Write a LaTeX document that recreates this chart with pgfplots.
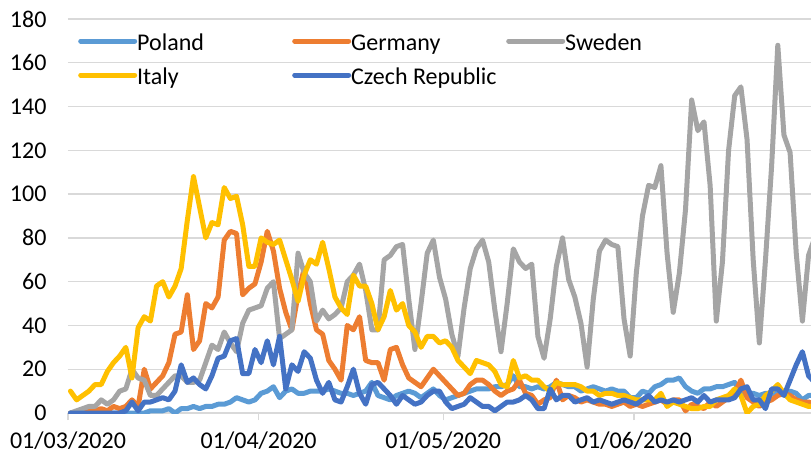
\documentclass[border=0pt]{standalone}
\usepackage{fontspec}
\setmainfont{Carlito}
\usepackage{pgfplots}
\usepackage{pgfplotstable}
\pgfplotsset{compat=1.18}
\definecolor{cPL}{HTML}{5B9BD5}
\definecolor{cDE}{HTML}{ED7D31}
\definecolor{cSE}{HTML}{A5A5A5}
\definecolor{cIT}{HTML}{FFC000}
\definecolor{cCZ}{HTML}{4472C4}
\definecolor{gridc}{HTML}{D9D9D9}
\newcommand{\legtext}[1]{\makebox[151bp][l]{\hspace*{-2bp}\strut #1}}
\pgfplotstableread{
d pl de se it cz
0 0 0 0 10 0
1 0 0 1 6 0
2 0 1 2 8 0
3 0 1 3 10 0
4 0 1 3 13 0
5 0 2 6 13 0
6 0 1 4 19 0
7 0 3 6 23 0
8 0 2 10 26 0
9 0 3 11 30 1
10 0 6 20 16 5
11 0 3 16 39 1
12 0 20 15 44 5
13 1 11 8 42 5
14 1 14 8 58 6
15 1 17 11 60 7
16 2 23 14 53 6
17 0 36 17 58 10
18 2 37 17 66 22
19 2 54 14 88 14
20 3 29 14 108 16
21 2 33 15 94 13
22 3 50 23 80 11
23 3 48 31 87 17
24 4 53 29 86 25
25 4 79 37 103 26
26 5 83 32 98 33
27 7 82 28 99 34
28 6 54 41 86 18
29 5 57 47 67 18
30 6 59 48 67 29
31 9 69 49 80 23
32 10 83 57 78 33
33 12 74 60 77 22
34 7 57 34 79 35
35 10 46 36 70 11
36 11 38 38 61 22
37 9 54 73 51 19
38 9 66 64 63 28
39 10 50 60 70 25
40 10 38 42 68 15
41 10 36 47 78 9
42 11 24 43 66 14
43 10 20 45 53 6
44 9 15 48 48 5
45 9 40 60 45 12
46 8 38 63 63 20
47 9 44 68 58 9
48 10 24 56 58 4
49 14 23 38 50 13
50 8 23 38 38 14
51 7 15 70 44 11
52 6 29 72 56 8
53 8 30 76 47 4
54 9 22 77 50 8
55 10 16 52 40 6
56 9 14 29 37 4
57 7 12 50 30 5
58 9 16 73 35 8
59 11 20 79 35 10
60 8 17 62 32 10
61 6 14 52 33 5
62 7 11 36 30 2
63 8 8 26 24 3
64 9 9 48 21 4
65 10 13 66 18 7
66 11 15 75 24 5
67 11 15 79 23 3
68 11 13 69 22 3
69 12 10 47 19 1
70 12 8 28 13 3
71 13 10 50 12 5
72 17 11 75 24 5
73 12 15 69 16 6
74 12 9 66 17 8
75 11 8 68 15 6
76 12 4 35 15 2
77 11 6 25 12 2
78 12 7 43 10 11
79 14 15 67 14 6
80 13 6 80 13 8
81 12 8 61 13 8
82 12 7 53 13 5
83 10 5 41 12 6
84 11 6 21 10 7
85 12 5 52 10 5
86 11 4 74 8 6
87 10 4 79 9 5
88 11 3 77 9 4
89 10 4 76 8 5
90 10 5 43 8 6
91 7 3 26 7 5
92 7 4 64 6 4
93 10 3 90 6 6
94 9 4 104 6 8
95 12 5 103 6 5
96 13 6 113 9 6
97 15 4 73 3 5
98 15 6 46 5 6
99 16 6 64 4 5
100 12 1 93 3 6
101 10 4 143 2 7
102 9 3 129 2 5
103 11 2 133 3 8
104 11 5 104 3 5
105 12 3 42 6 6
106 12 5 69 7 6
107 13 7 120 8 6
108 14 9 145 11 7
109 9 15 149 8 11
110 9 7 125 0 12
111 9 5 70 3 6
112 8 3 32 4 6
113 9 5 70 8 2
114 9 6 113 10 11
115 9 8 168 13 11
116 9 9 127 9 8
117 10 8 119 6 15
118 9 6 73 5 22
119 6 5 42 4 28
120 8 5 72 3 17
121 8 4 80 3 14
}\data
\begin{document}
\begin{tikzpicture}
\begin{axis}[
  name=ax,
  scale only axis, width=743bp, height=394bp,
  xmin=0, xmax=120.8, ymin=0, ymax=180,
  axis x line*=bottom, axis y line*=left,
  y axis line style={draw=none},
  x axis line style={draw=gridc, line width=1.3bp},
  ytick={0,20,...,180},
  ymajorgrids, grid style={draw=gridc, line width=1.3bp},
  ytick style={draw=none},
  xtick={0,31,61,92},
  xticklabels={01/03/2020,01/04/2020,01/05/2020,01/06/2020},
  xtick style={draw=gridc, line width=1.3bp},
  tick align=outside, major tick length=7bp,
  /pgf/number format/assume math mode=true,
  tick label style={font=\fontsize{24bp}{28.8bp}\selectfont, text=black},
  yticklabel style={xshift=-11bp},
  xticklabel style={yshift=-8bp},
  every axis plot/.append style={line width=5bp, line cap=round, line join=round, mark=none},
  legend columns=3,
  legend cell align=left,
  legend style={draw=none, fill=none, at={(rel axis cs:0,1)}, xshift=10bp, yshift=-9bp, anchor=north west, inner sep=0pt, row sep=8.4bp, nodes={inner sep=2bp}, font=\fontsize{24bp}{28.8bp}\selectfont},
  legend image code/.code={\draw[#1, line width=5bp, line cap=round] (0bp,0bp) -- (49bp,0bp); \path (-2.5bp,0bp) -- (51.5bp,0bp);},
]
\addplot[cPL] table[x expr=\thisrow{d}+0.4, y=pl] {\data};
\addlegendentry{\legtext{Poland}}
\addplot[cDE] table[x expr=\thisrow{d}+0.4, y=de] {\data};
\addlegendentry{\legtext{Germany}}
\addplot[cSE] table[x expr=\thisrow{d}+0.4, y=se] {\data};
\addlegendentry{\legtext{Sweden}}
\addplot[cIT] table[x expr=\thisrow{d}+0.4, y=it] {\data};
\addlegendentry{\legtext{Italy}}
\addplot[cCZ] table[x expr=\thisrow{d}+0.4, y=cz] {\data};
\addlegendentry{\legtext{Czech Republic}}
\end{axis}
\pgfresetboundingbox
\useasboundingbox ([xshift=-68bp,yshift=-40bp]ax.south west) rectangle ([yshift=19bp]ax.north east);
\end{tikzpicture}
\end{document}
